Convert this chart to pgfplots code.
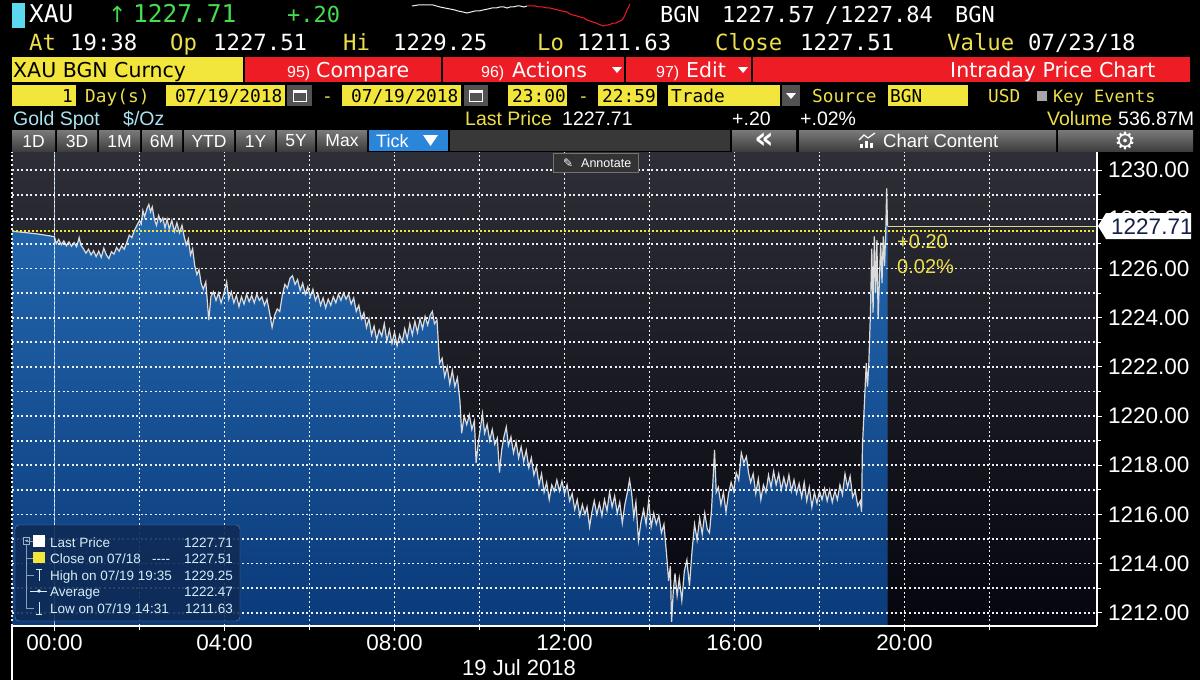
\documentclass[border=0pt]{standalone}
\usepackage{pgfplots}
\pgfplotsset{compat=1.18}
\usepackage{pgfplotstable}
\usepackage{fontspec}
\setmainfont{Liberation Sans}
\newfontfamily\sans{Liberation Sans}
\newfontfamily\mono{DejaVu Sans Mono}
\newfontfamily\dv{DejaVu Sans}
\newcommand\fs[1]{\fontsize{#1}{#1}\selectfont}

\definecolor{bbyel}{HTML}{F2E63C}
\definecolor{bbtxtyel}{HTML}{ECDF4A}
\definecolor{bbred}{HTML}{EE1C25}
\definecolor{bbgreen}{HTML}{46DC50}
\definecolor{bbcyan}{HTML}{5CD9F0}
\definecolor{bbpale}{HTML}{A8E2F0}
\definecolor{btntop}{HTML}{7A7A7A}
\definecolor{btnbot}{HTML}{3E3E3E}
\definecolor{tickblue}{HTML}{2B86D9}
\definecolor{bgtop}{HTML}{2E2E36}
\definecolor{bgbot}{HTML}{05050E}
\definecolor{areatop}{HTML}{2569B0}
\definecolor{areabot}{HTML}{0A3A7A}
\definecolor{pline}{HTML}{DADADA}
\definecolor{legbg}{HTML}{0F2A55}
\definecolor{legtxt}{HTML}{D5EEF7}
\definecolor{navytxt}{HTML}{14224A}
\definecolor{lastline}{HTML}{D8D890}
\definecolor{gridc}{HTML}{EEF0F6}

% XAU intraday ticks, 19 Jul 2018 (hours from midnight, price)
\pgfplotstableread{
h v
-1.00 1227.51
-0.70 1227.46
-0.40 1227.40
-0.10 1227.32
0.00 1227.28
0.04 1227.00
0.10 1227.18
0.16 1226.96
0.22 1227.12
0.28 1226.92
0.34 1227.08
0.40 1226.90
0.46 1227.05
0.52 1226.88
0.58 1227.25
0.62 1226.95
0.68 1226.80
0.74 1226.62
0.80 1226.78
0.86 1226.55
0.92 1226.72
0.98 1226.48
1.04 1226.70
1.10 1226.45
1.16 1226.82
1.22 1226.55
1.28 1226.40
1.34 1226.68
1.40 1226.58
1.46 1226.85
1.52 1226.70
1.58 1226.92
1.64 1226.78
1.70 1227.05
1.76 1227.35
1.82 1227.25
1.88 1227.55
1.94 1227.75
2.00 1227.95
2.04 1227.80
2.08 1228.35
2.12 1228.10
2.18 1228.45
2.22 1228.60
2.26 1228.30
2.30 1228.50
2.35 1228.00
2.40 1227.75
2.45 1228.15
2.50 1227.90
2.55 1228.05
2.60 1227.65
2.65 1228.00
2.70 1227.60
2.76 1227.95
2.82 1227.50
2.88 1227.85
2.94 1227.45
3.00 1227.75
3.05 1227.30
3.10 1226.95
3.15 1227.20
3.20 1226.55
3.25 1226.80
3.30 1226.10
3.35 1225.75
3.40 1225.95
3.45 1225.40
3.50 1225.15
3.56 1225.45
3.63 1223.90
3.68 1224.85
3.74 1225.05
3.80 1224.70
3.86 1225.00
3.92 1224.60
3.98 1224.95
4.05 1225.45
4.10 1224.75
4.16 1225.05
4.22 1224.60
4.28 1224.90
4.34 1224.45
4.40 1224.85
4.46 1224.55
4.52 1224.95
4.58 1224.65
4.64 1224.90
4.70 1224.60
4.76 1224.95
4.82 1224.70
4.88 1224.85
4.94 1224.50
5.00 1224.75
5.06 1224.20
5.12 1223.60
5.18 1224.10
5.24 1224.35
5.30 1224.25
5.36 1224.90
5.42 1225.35
5.48 1225.20
5.54 1225.60
5.60 1225.70
5.66 1225.35
5.72 1225.55
5.78 1225.10
5.84 1225.40
5.90 1224.95
5.96 1225.25
6.02 1224.85
6.08 1225.15
6.14 1224.70
6.20 1224.95
6.26 1224.50
6.32 1224.80
6.38 1224.40
6.44 1224.75
6.50 1224.50
6.56 1224.85
6.62 1224.60
6.68 1224.95
6.74 1224.70
6.80 1225.00
6.86 1224.75
6.92 1224.95
6.98 1224.55
7.04 1224.80
7.10 1224.25
7.16 1224.50
7.22 1223.95
7.28 1224.20
7.34 1223.60
7.40 1223.95
7.46 1223.30
7.52 1223.65
7.58 1223.10
7.64 1223.50
7.70 1223.25
7.76 1223.75
7.82 1223.05
7.88 1223.50
7.94 1222.95
8.00 1223.40
8.06 1222.85
8.12 1223.30
8.18 1223.00
8.24 1223.55
8.30 1223.15
8.36 1223.75
8.42 1223.30
8.48 1223.85
8.54 1223.40
8.60 1223.95
8.66 1223.55
8.72 1224.05
8.78 1223.70
8.84 1224.10
8.89 1224.25
8.94 1223.75
9.00 1223.90
9.06 1222.15
9.12 1222.35
9.18 1221.60
9.24 1222.00
9.30 1221.30
9.36 1221.85
9.42 1221.20
9.48 1221.55
9.54 1220.60
9.58 1219.30
9.64 1220.00
9.70 1219.65
9.76 1220.05
9.82 1219.45
9.88 1219.80
9.92 1218.10
9.97 1218.90
10.02 1219.50
10.07 1220.10
10.12 1219.30
10.18 1219.65
10.24 1219.00
10.30 1219.45
10.36 1218.85
10.42 1219.10
10.47 1217.70
10.52 1218.60
10.58 1219.20
10.63 1219.55
10.68 1218.80
10.74 1219.15
10.80 1218.50
10.86 1218.95
10.92 1218.30
10.98 1218.75
11.04 1218.15
11.10 1218.60
11.16 1217.90
11.22 1218.30
11.28 1217.60
11.34 1217.95
11.40 1217.20
11.46 1217.65
11.52 1216.90
11.58 1217.30
11.64 1216.60
11.70 1217.20
11.76 1216.95
11.82 1217.40
11.88 1216.95
11.94 1217.35
12.00 1216.85
12.06 1217.20
12.12 1216.55
12.18 1216.85
12.24 1216.20
12.30 1216.60
12.36 1215.95
12.42 1216.40
12.48 1216.00
12.53 1216.30
12.59 1215.50
12.64 1216.05
12.70 1216.55
12.76 1216.00
12.82 1216.45
12.88 1215.95
12.94 1216.60
13.00 1216.15
13.06 1216.90
13.12 1216.30
13.18 1216.75
13.24 1216.05
13.30 1216.50
13.36 1215.65
13.42 1216.40
13.48 1216.90
13.53 1217.40
13.58 1216.85
13.63 1215.90
13.68 1216.50
13.74 1214.95
13.80 1215.70
13.86 1216.20
13.92 1215.60
13.98 1216.55
14.04 1215.50
14.10 1216.05
14.16 1215.60
14.22 1215.95
14.28 1215.25
14.34 1215.60
14.40 1214.40
14.45 1213.30
14.49 1213.90
14.52 1211.63
14.56 1212.90
14.60 1213.60
14.65 1212.70
14.70 1213.40
14.76 1212.50
14.82 1213.70
14.88 1214.15
14.94 1213.10
15.00 1214.50
15.06 1215.60
15.12 1214.96
15.18 1215.85
15.24 1215.20
15.30 1216.05
15.36 1215.40
15.41 1215.25
15.46 1216.20
15.53 1218.62
15.57 1216.90
15.62 1217.10
15.68 1216.40
15.74 1216.90
15.80 1216.10
15.86 1216.85
15.92 1217.30
15.98 1216.95
16.04 1217.70
16.10 1217.40
16.16 1218.50
16.22 1218.10
16.28 1218.35
16.33 1217.70
16.38 1217.30
16.44 1217.65
16.50 1216.85
16.56 1217.45
16.62 1216.60
16.68 1217.20
16.74 1216.90
16.80 1217.60
16.86 1217.10
16.92 1217.75
16.98 1217.20
17.04 1217.65
17.10 1217.00
17.16 1217.50
17.22 1217.05
17.28 1217.60
17.34 1216.95
17.40 1217.40
17.46 1216.85
17.52 1217.25
17.58 1216.70
17.64 1217.30
17.70 1216.55
17.76 1217.10
17.82 1216.30
17.88 1216.90
17.94 1216.45
18.00 1216.95
18.06 1216.60
18.12 1217.05
18.18 1216.55
18.24 1217.00
18.30 1216.50
18.36 1216.95
18.42 1216.60
18.48 1217.20
18.54 1216.80
18.60 1217.65
18.66 1217.10
18.72 1217.55
18.78 1216.70
18.84 1216.95
18.90 1216.35
18.96 1216.55
18.99 1216.10
19.01 1218.75
19.06 1220.65
19.10 1222.15
19.13 1221.20
19.16 1222.10
19.20 1224.30
19.23 1226.80
19.26 1224.20
19.29 1227.30
19.32 1225.00
19.35 1227.15
19.38 1223.95
19.41 1225.60
19.44 1227.05
19.47 1225.40
19.50 1227.30
19.53 1226.10
19.56 1227.60
19.58 1229.25
19.60 1227.71
}\price

\pagecolor{black}

\begin{document}
\begin{tikzpicture}
\useasboundingbox (0,0) rectangle (1200pt,-680pt);

% ---------------- sparkline in the header ----------------
\begin{axis}[
  at={(410pt,-28pt)}, anchor=south west,
  width=222pt, height=25pt, scale only axis, hide axis,
  xmin=410, xmax=632, ymin=2, ymax=27, clip=false,
]
\addplot[white!85!gray, line width=1pt] coordinates {
(412,24) (418,25) (425,25) (433,25) (440,23) (445,22) (450,21) (455,20) (458,19)
(463,18) (467,17) (471,18) (475,19) (479,19) (483,20) (488,21) (492,22) (496,22)
(500,23) (504,23) (507,22) (510,23) (513,23) (517,24) (520,24) (524,23) (527,24)};
\addplot[bbred, line width=1pt] coordinates {
(527,24) (531,24) (535,24) (539,23) (543,23) (547,22) (550,22) (554,21) (558,20)
(562,19) (567,18) (570,16) (573,15) (577,14) (580,13) (584,12) (587,10) (590,9)
(593,8) (596,7) (598,6) (601,5) (603,4) (606,5) (608,5) (611,6) (613,7) (616,7)
(618,8) (620,9) (622,10) (624,13) (625,15) (627,20) (629,24) (630,26)};
\end{axis}

% ---------------- main chart ----------------
\begin{axis}[
  at={(12pt,-626pt)}, anchor=south west,
  width=1085pt, height=474pt, scale only axis,
  xmin=-1, xmax=24.529, ymin=1211.463, ymax=1230.732,
  axis background/.style={top color=bgtop, bottom color=bgbot},
  axis on top,
  axis x line*=bottom, axis y line*=right,
  axis line style={white, line width=1.2pt},
  xtick={0,4,...,20},
  xticklabels={00:00,04:00,08:00,12:00,16:00,20:00},
  minor xtick={2,6,10,14,18,22},
  ytick={1212,1214,...,1230},
  minor ytick={1213,1215,...,1229},
  extra x ticks={-1}, extra x tick labels={},
  extra x tick style={major tick length=0pt},
  xmajorgrids=true, xminorgrids=true, ymajorgrids=true, yminorgrids=true,
  major grid style={draw=gridc, dash pattern=on 2pt off 2.6pt, line width=1.8pt},
  minor grid style={draw=gridc, dash pattern=on 2pt off 2.6pt, line width=1.8pt},
  tick align=outside,
  major tick length=5pt, minor tick length=4pt,
  tick style={white, line width=1pt},
  /pgf/number format/assume math mode=true,
  ticklabel style={font=\fs{22.5}, text=white},
  yticklabel style={xshift=2.5pt, /pgf/number format/.cd, fixed, fixed zerofill, precision=2, 1000 sep={}},
]
\addplot[draw=none, top color=areatop, bottom color=areabot]
  table[x=h, y=v] {\price} -- (axis cs:19.60,1211.463) -- (axis cs:-1,1211.463) -- cycle;
% day separator at 00:00
\addplot[white!55!areatop, line width=1.2pt] coordinates {(0,1211.463) (0,1230.732)};
\addplot[pline, line width=1.2pt] table[x=h, y=v] {\price};
\addplot[bbyel, line width=1.8pt, dash pattern=on 2pt off 2pt] coordinates {(-1,1227.51) (24.529,1227.51)};
\addplot[lastline, line width=1.2pt] coordinates {(19.60,1227.71) (24.529,1227.71)};
\end{axis}

% ---------------- terminal header and overlays (pixel coordinates) ----------------
\begin{scope}[x=1pt, y=-1pt, every node/.style={inner sep=0pt}]
\tikzset{t/.style={anchor=base west}}

% row 1
\fill[bbcyan] (12,3) rectangle (25,28);
\node[t, text=white, font=\mono\fs{24.5}] at (29,23) {XAU};
\node[t, text=bbgreen, font=\dv\fs{22}] at (108,23) {↑};
\node[t, text=bbgreen, font=\mono\fs{24.5}] at (133,23) {1227.71};
\node[t, text=bbgreen, font=\mono\fs{22}] at (287,23) {+.20};
\node[t, text=white, font=\mono\fs{22}] at (660,23) {BGN};
\node[t, text=white, font=\mono\fs{22}] at (722,23) {1227.57};
\node[t, text=white, font=\mono\fs{22}] at (825,23) {/};
\node[t, text=white, font=\mono\fs{22}] at (840,23) {1227.84};
\node[t, text=white, font=\mono\fs{22}] at (955,23) {BGN};

% row 2
\begin{scope}[every node/.append style={t, font=\mono\fs{22.3}}]
\node[text=bbtxtyel] at (29,50) {At};
\node[text=white] at (70,50) {19:38};
\node[text=bbtxtyel] at (170,50) {Op};
\node[text=white] at (213,50) {1227.51};
\node[text=bbtxtyel] at (343,50) {Hi};
\node[text=white] at (393,50) {1229.25};
\node[text=bbtxtyel] at (537,50) {Lo};
\node[text=white] at (577,50) {1211.63};
\node[text=bbtxtyel] at (715,50) {Close};
\node[text=white] at (800,50) {1227.51};
\node[text=bbtxtyel] at (947,50) {Value};
\node[text=white] at (1028,50) {07/23/18};
\end{scope}

% row 3
\fill[bbyel] (12,57) rectangle (243,82);
\fill[bbred] (245,57) rectangle (441,82);
\fill[bbred] (443,57) rectangle (624,82);
\fill[bbred] (626,57) rectangle (751,82);
\fill[bbred] (753,57) rectangle (1190,82);
\begin{scope}[every node/.append style={t, font=\dv\fs{20.5}}]
\node[text=black] at (13,77) {XAU BGN Curncy};
\node[text=white, font=\sans\fs{16}] at (287,77) {95)};
\node[text=white] at (316,77) {Compare};
\node[text=white, font=\sans\fs{16}] at (481,77) {96)};
\node[text=white] at (512,77) {Actions};
\node[text=white, font=\sans\fs{16}] at (656,77) {97)};
\node[text=white] at (686,77) {Edit};
\node[text=white] at (950,77) {Intraday Price Chart};
\end{scope}
\fill[white] (612,67) -- (622,67) -- (617,73) -- cycle;
\fill[white] (738,67) -- (748,67) -- (743,73) -- cycle;

% row 4
\fill[bbyel] (12,85) rectangle (76,106);
\fill[bbyel] (166,85) rectangle (285,106);
\fill[btnbot!70!gray] (287,85) rectangle (312,106);
\fill[bbyel] (342,85) rectangle (461,106);
\fill[btnbot!70!gray] (464,85) rectangle (488,106);
\fill[bbyel] (508,85) rectangle (567,106);
\fill[bbyel] (598,85) rectangle (657,106);
\fill[bbyel] (668,85) rectangle (780,106);
\fill[btnbot!70!gray] (782,85) rectangle (800,106);
\fill[bbyel] (888,85) rectangle (968,106);
\fill[gray!70] (1037,91) rectangle (1047,101);
\foreach \cx in {293,469} {
  \draw[white, line width=1pt] (\cx,90) rectangle (\cx+13,101);
  \fill[white] (\cx,90) rectangle (\cx+13,93);
}
\fill[white] (786,93) -- (796,93) -- (791,99) -- cycle;
\begin{scope}[every node/.append style={t, font=\mono\fs{17.8}}]
\node[text=black, anchor=base east] at (73,102) {1};
\node[text=bbtxtyel] at (85,102) {Day(s)};
\node[text=black] at (175,102) {07/19/2018};
\node[text=bbtxtyel] at (322,102) {-};
\node[text=black] at (351,102) {07/19/2018};
\node[text=black] at (512,102) {23:00};
\node[text=bbtxtyel] at (578,102) {-};
\node[text=black] at (602,102) {22:59};
\node[text=black] at (671,102) {Trade};
\node[text=bbtxtyel] at (812,102) {Source};
\node[text=black] at (890,102) {BGN};
\node[text=bbtxtyel] at (988,102) {USD};
\node[text=bbtxtyel, font=\mono\fs{17}] at (1053,102) {Key Events};
\end{scope}

% row 5
\begin{scope}[every node/.append style={t, font=\fs{19.5}}]
\node[text=bbpale] at (13,125) {Gold Spot};
\node[text=bbpale] at (123,125) {\$/Oz};
\node[text=bbtxtyel] at (465,125) {Last Price};
\node[text=white] at (562,125) {1227.71};
\node[text=white] at (732,125) {+.20};
\node[text=white] at (800,125) {+.02\%};
\node[text=bbtxtyel] at (1047,125) {Volume};
\node[text=white] at (1118,125) {536.87M};
\end{scope}

% row 6 buttons
\foreach \a/\b/\s in {12/55/1D, 57/97/3D, 99/140/1M, 142/182/6M, 184/234/YTD, 236/275/1Y, 277/315/5Y, 317/367/Max} {
  \shade[top color=btntop, bottom color=btnbot] (\a,130) rectangle (\b,151);
  \node[text=white, font=\fs{17.5}] at ({(\a+\b)/2},141) {\s};
}
\fill[tickblue] (369,130) rectangle (448,151);
\node[t, text=white, font=\fs{18}] at (376,147) {Tick};
\fill[white] (423,135) -- (438,135) -- (430.5,146) -- cycle;
\fill[white!22!black] (450,130) rectangle (730,151);
\shade[top color=btntop, bottom color=btnbot] (732,130) rectangle (796,151);
\node[text=white, font=\dv\bfseries\fs{30}] at (764,141) {«};
\shade[top color=btntop, bottom color=btnbot] (799,130) rectangle (1056,151);
\fill[white] (860,144) rectangle (863,148);
\fill[white] (865,141) rectangle (868,148);
\fill[white] (870,143) rectangle (873,148);
\draw[white, line width=1.2pt] (859,140) -- (864,135) -- (868,138) -- (875,133);
\node[t, text=white, font=\fs{18.5}] at (883,147) {Chart Content};
\shade[top color=btntop, bottom color=btnbot] (1058,130) rectangle (1193,151);
\node[text=white, font=\dv\bfseries\fs{24}] at (1125,140.5) {⚙};

% annotate button
\fill[white!20!black] (553,153) rectangle (638,172);
\draw[white!45!black] (553,153) rectangle (638,172);
\node[t, text=white, font=\dv\fs{12}] at (563,167) {✎};
\node[t, text=white, font=\fs{12.5}] at (581,167) {Annotate};

% change annotation beside the last price
\node[t, text=bbtxtyel, font=\fs{20}] at (897,248) {+0.20};
\node[t, text=bbtxtyel, font=\fs{20}] at (897,273) {0.02\%};

% last price marker on the price scale
\fill[white] (1098,226) -- (1106,213) -- (1191,213) -- (1191,239) -- (1106,239) -- cycle;
\node[t, text=navytxt, font=\fs{22.5}] at (1111,234) {1227.71};

% time axis extras
\draw[white, line width=1.3pt] (12,626) -- (12,680);
\node[t, text=white, font=\fs{22}] at (462,675) {19 Jul 2018};

% legend box
\fill[legbg, fill opacity=0.88, rounded corners=4pt] (15,525) rectangle (240,621);
\draw[white!40!legbg, rounded corners=4pt] (15,525) rectangle (240,621);
\draw[legtxt!70!legbg, line width=0.8pt] (23,537) rectangle (29,544);
\draw[legtxt!70!legbg, line width=0.8pt] (24.5,540.5) -- (27.5,540.5);
\draw[legtxt!60!legbg, line width=0.8pt] (26,544) -- (26,608);
\draw[legtxt!60!legbg, line width=0.8pt] (26,541) -- (33,541);
\draw[legtxt!60!legbg, line width=0.8pt] (26,558) -- (33,558);
\draw[legtxt!60!legbg, line width=0.8pt] (26,575) -- (34,575);
\draw[legtxt!60!legbg, line width=0.8pt] (26,608) -- (34,608);
\fill[white] (33,535) rectangle (45,547);
\fill[bbyel] (33,552) rectangle (45,563);
\draw[legtxt, line width=1pt] (36,569) -- (42,569) (39,569) -- (39,581);
\draw[legtxt, line width=1pt] (30,591) -- (47,591);
\fill[legtxt] (39,591) circle (1.8);
\draw[legtxt, line width=1pt] (39,602) -- (39,614) (36,614) -- (42,614);
\begin{scope}[every node/.append style={font=\fs{13.5}, text=legtxt}]
\node[t] at (50,547) {Last Price};
\node[t] at (50,563) {Close on 07/18};
\node[t] at (152,563) {{-}{-}{-}{-}};
\node[t] at (50,580) {High on 07/19 19:35};
\node[t] at (50,596) {Average};
\node[t] at (50,613) {Low on 07/19 14:31};
\node[anchor=base east] at (233,547) {1227.71};
\node[anchor=base east] at (233,563) {1227.51};
\node[anchor=base east] at (233,580) {1229.25};
\node[anchor=base east] at (233,596) {1222.47};
\node[anchor=base east] at (233,613) {1211.63};
\end{scope}
\end{scope}
\end{tikzpicture}
\end{document}
